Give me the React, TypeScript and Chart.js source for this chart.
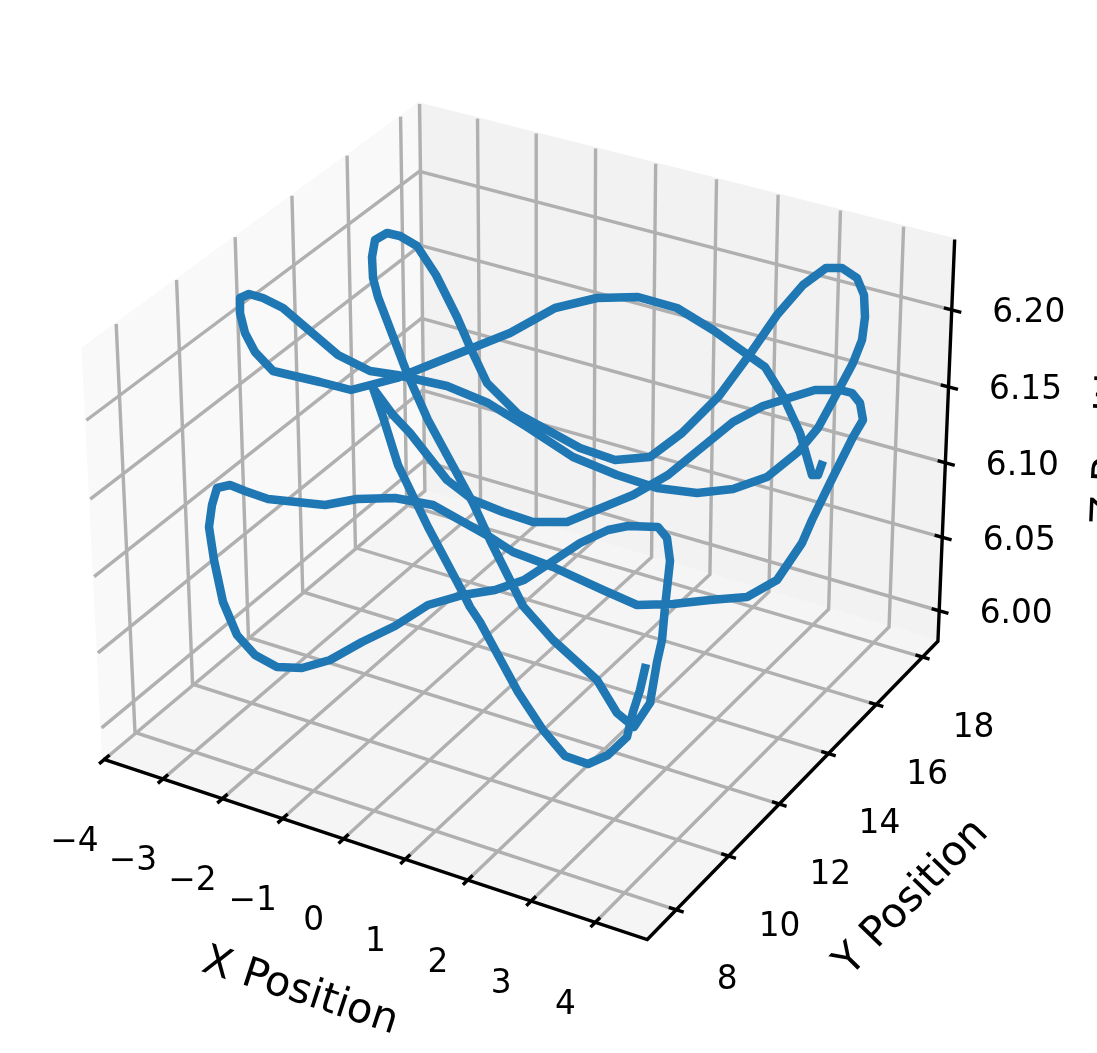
import React, { useEffect, useRef } from "react";
import { Chart, registerables } from "chart.js";

Chart.register(...registerables);

// Axis ticks
const xTicks = [-4, -3, -2, -1, 0, 1, 2, 3, 4];
const yTicks = [8, 10, 12, 14, 16, 18];
const zTicks = [6.0, 6.05, 6.1, 6.15, 6.2];

// Axis limits
const xRange = [-4.02, 4.8];
const yRange = [6.92, 18.68];
const zRange = [5.979, 6.245];

// The trajectory
const pathH = [646,640,633,627,608,588,565,543,518,480,470,463,428,398,383,373,393,410,447,473,503,533,567,633,668,733,763,815,840,852,860,863,853,830,812,802,777,747,710,673,637,603,553,513,490,433,395,357,325,268,245,230,217,212,209,214,223,237,255,277,302,330,362,395,428,463,495,524,550,580,608,628,658,667,670,665,662,657,650,634,617,597,553,523,490,473,428,407,378,373,372,375,387,400,417,436,457,470,487,518,580,615,650,682,719,750,777,803,826,842,857,864,865,862,853,837,818,798,767,733,697,657,617,573,527,488,447,397,370,338,283,263,249,240,240,245,255,273,320,351,397,437,510,555,597,638,677,713,748,765,783,800,812,818,823];
const pathV = [664,690,712,737,755,764,756,730,692,622,607,593,527,465,417,388,415,433,480,500,512,522,522,495,475,422,406,390,390,393,403,420,437,483,520,543,580,597,600,604,605,590,567,552,537,505,498,499,505,499,491,485,488,505,527,560,602,635,655,667,668,660,642,626,605,595,590,580,563,543,530,526,527,538,561,607,640,662,703,727,713,680,640,606,540,503,420,373,297,278,257,240,233,236,246,275,317,347,383,414,448,460,457,433,396,354,315,285,268,268,278,295,317,340,363,393,428,452,477,489,493,488,475,457,427,403,386,375,371,355,308,298,294,298,313,333,352,371,382,390,378,362,333,308,298,297,308,330,355,367,396,433,475,475,461];

const xTickLabels = ["\u22124","\u22123","\u22122","\u22121","0","1","2","3","4"];
const yTickLabels = ["8","10","12","14","16","18"];
const zTickLabels = ["6.00","6.05","6.10","6.15","6.20"];

const WIDTH = 1097;
const HEIGHT = 1053;

const nx = (x: number) => (x - xRange[0]) / (xRange[1] - xRange[0]);
const ny = (y: number) => (y - yRange[0]) / (yRange[1] - yRange[0]);
const nz = (z: number) => (z - zRange[0]) / (zRange[1] - zRange[0]);

// View calibration: box positions (unit coordinates) and where they are seen in the picture plane
const calibration: number[][] = [
  [0, 0, 0, 103, 760],
  [1, 0, 0, 648, 938],
  [1, 1, 0, 937, 641],
  [0, 1, 0, 425, 491],
  [0, 0, 1, 84, 347],
  [0, 1, 1, 420, 104],
  [1, 1, 1, 955, 239],
  [nx(-3), 0, 0, 163, 781],
  [nx(0), 0, 0, 343, 839],
  [nx(4), 0, 0, 595, 922],
  [1, 0.0986, 0, 680, 908],
  [1, 0.4388, 0, 780, 803],
  [1, 0.949, 0, 923, 657],
  [0, 0.0986, 1, 116, 326],
  [0, 0.949, 1, 400, 117],
  [nx(-3), 1, 1, 478, 120],
  [nx(4), 1, 1, 903, 228],
  [1, 1, nz(6), 940, 610],
  [1, 1, nz(6.2), 953, 308],
  [0, 1, nz(6), 423, 460],
  [0, 1, nz(6.2), 420, 168],
  [0, 0, nz(6), 102, 726],
  [0, 0, nz(6.2), 87, 417],
];

function solve(A: number[][], b: number[]) {
  const n = b.length;
  const M = A.map((r, i) => [...r, b[i]]);
  for (let c = 0; c < n; c++) {
    let p = c;
    for (let r = c + 1; r < n; r++) if (Math.abs(M[r][c]) > Math.abs(M[p][c])) p = r;
    [M[c], M[p]] = [M[p], M[c]];
    for (let r = 0; r < n; r++) {
      if (r === c) continue;
      const f = M[r][c] / M[c][c];
      for (let k = c; k <= n; k++) M[r][k] -= f * M[c][k];
    }
  }
  return M.map((r, i) => r[n] / r[i]);
}

function fitCamera() {
  const rows: number[][] = [];
  const rhs: number[] = [];
  calibration.forEach(([X, Y, Z, h, v]) => {
    rows.push([X, Y, Z, 1, 0, 0, 0, 0, -h * X, -h * Y, -h * Z]);
    rhs.push(h);
    rows.push([0, 0, 0, 0, X, Y, Z, 1, -v * X, -v * Y, -v * Z]);
    rhs.push(v);
  });
  const n = 11;
  const AtA = Array.from({ length: n }, (_, i) =>
    Array.from({ length: n }, (_, j) => rows.reduce((s, r) => s + r[i] * r[j], 0))
  );
  const Atb = Array.from({ length: n }, (_, i) => rows.reduce((s, r, k) => s + r[i] * rhs[k], 0));
  return solve(AtA, Atb);
}

const cam = fitCamera();
const project = (u: number, v: number, w: number) => {
  const d = cam[8] * u + cam[9] * v + cam[10] * w + 1;
  return {
    x: (cam[0] * u + cam[1] * v + cam[2] * w + cam[3]) / d,
    y: (cam[4] * u + cam[5] * v + cam[6] * w + cam[7]) / d,
  };
};

const lineSet = (data: { x: number; y: number }[], color: string, width: number) => ({
  data,
  showLine: true,
  pointRadius: 0,
  borderColor: color,
  borderWidth: width,
  tension: 0,
  clip: false as const,
  fill: false,
});

const paneSet = (corners: number[][], fillColor: string) => ({
  data: [...corners, corners[0]].map(([u, v, w]) => project(u, v, w)),
  showLine: true,
  pointRadius: 0,
  borderColor: fillColor,
  backgroundColor: fillColor,
  borderWidth: 2.5,
  tension: 0,
  clip: false as const,
  fill: "shape",
});

function buildDatasets() {
  const back: any[] = [];
  back.push(paneSet([[0,0,0],[0,1,0],[0,1,1],[0,0,1]], "rgb(249,249,249)"));
  back.push(paneSet([[0,1,0],[1,1,0],[1,1,1],[0,1,1]], "rgb(242,242,242)"));
  back.push(paneSet([[0,0,0],[1,0,0],[1,1,0],[0,1,0]], "rgb(245,245,245)"));
  const grid = "#b0b0b0";
  const gw = 3.4;
  xTicks.forEach((t) => {
    const u = nx(t);
    back.push(lineSet([project(u,0,0), project(u,1,0), project(u,1,1)], grid, gw));
  });
  yTicks.forEach((t) => {
    const v = ny(t);
    back.push(lineSet([project(1,v,0), project(0,v,0), project(0,v,1)], grid, gw));
  });
  zTicks.forEach((t) => {
    const w = nz(t);
    back.push(lineSet([project(0,0,w), project(0,1,w), project(1,1,w)], grid, gw));
  });
  const ink = "#000000";
  const aw = 3.4;
  back.push(lineSet([project(0,0,0), project(1,0,0), project(1,1,0), project(1,1,1)], ink, aw));
  xTicks.forEach((t) => {
    const u = nx(t);
    back.push(lineSet([project(u,-0.015,0), project(u,0.015,0)], ink, aw));
  });
  yTicks.forEach((t) => {
    const v = ny(t);
    back.push(lineSet([project(0.987,v,0), project(1.013,v,0)], ink, aw));
  });
  zTicks.forEach((t) => {
    const w = nz(t);
    back.push(lineSet([project(0.986,1,w), project(1.017,1,w)], ink, aw));
  });
  const curve = {
    ...lineSet(pathH.map((h, i) => ({ x: h, y: pathV[i] })), "#1f77b4", 8.5),
    borderJoinStyle: "round" as const,
    borderCapStyle: "butt" as const,
  };
  // Chart.js paints the first dataset last
  return [curve, ...back.reverse()];
}

const labelsPlugin = {
  id: "boxLabels",
  afterDraw(chart: any) {
    const { ctx, scales } = chart;
    const px = (p: { x: number; y: number }) => ({
      x: scales.x.getPixelForValue(p.x),
      y: scales.y.getPixelForValue(p.y),
    });
    ctx.save();
    ctx.fillStyle = "#000";
    ctx.textAlign = "center";
    ctx.textBaseline = "middle";
    const tickFont = "32.8px 'DejaVu Sans'";
    const labelFont = "41.5px 'DejaVu Sans'";
    ctx.font = tickFont;
    xTicks.forEach((t, i) => {
      const p = px(project(nx(t), 0, 0));
      ctx.fillText(xTickLabels[i], p.x - 30, p.y + 83);
    });
    yTicks.forEach((t, i) => {
      const p = px(project(1, ny(t), 0));
      ctx.fillText(yTickLabels[i], p.x + 51, p.y + 71);
    });
    zTicks.forEach((t, i) => {
      const p = px(project(1, 1, nz(t)));
      ctx.fillText(zTickLabels[i], p.x + 77, p.y + 4);
    });
    const rotated = (text: string, x: number, y: number, deg: number) => {
      ctx.save();
      ctx.translate(x, y);
      ctx.rotate((deg * Math.PI) / 180);
      ctx.font = labelFont;
      ctx.fillText(text, 0, 0);
      ctx.restore();
    };
    rotated("X Position", 300, 992, 18.1);
    rotated("Y Position", 912, 898, -45.8);
    rotated("Z Position", 1113, 423, -87.4);
    ctx.restore();
  },
};

export default function App() {
  const ref = useRef<HTMLCanvasElement | null>(null);
  useEffect(() => {
    if (!ref.current) return;
    const chart = new Chart(ref.current, {
      type: "scatter",
      data: { datasets: buildDatasets() as any },
      options: {
        responsive: false,
        animation: false,
        devicePixelRatio: 1,
        layout: { padding: 0 },
        plugins: { legend: { display: false }, tooltip: { enabled: false } },
        scales: {
          x: { type: "linear", min: 0, max: WIDTH, display: false },
          y: { type: "linear", min: 0, max: HEIGHT, reverse: true, display: false },
        },
      },
      plugins: [labelsPlugin],
    });
    return () => chart.destroy();
  }, []);
  return (
    <div style={{ position: "absolute", left: 0, top: 0, width: WIDTH, height: HEIGHT, overflow: "hidden", background: "#fff" }}>
      <canvas ref={ref} width={WIDTH} height={HEIGHT} style={{ display: "block" }} />
    </div>
  );
}
